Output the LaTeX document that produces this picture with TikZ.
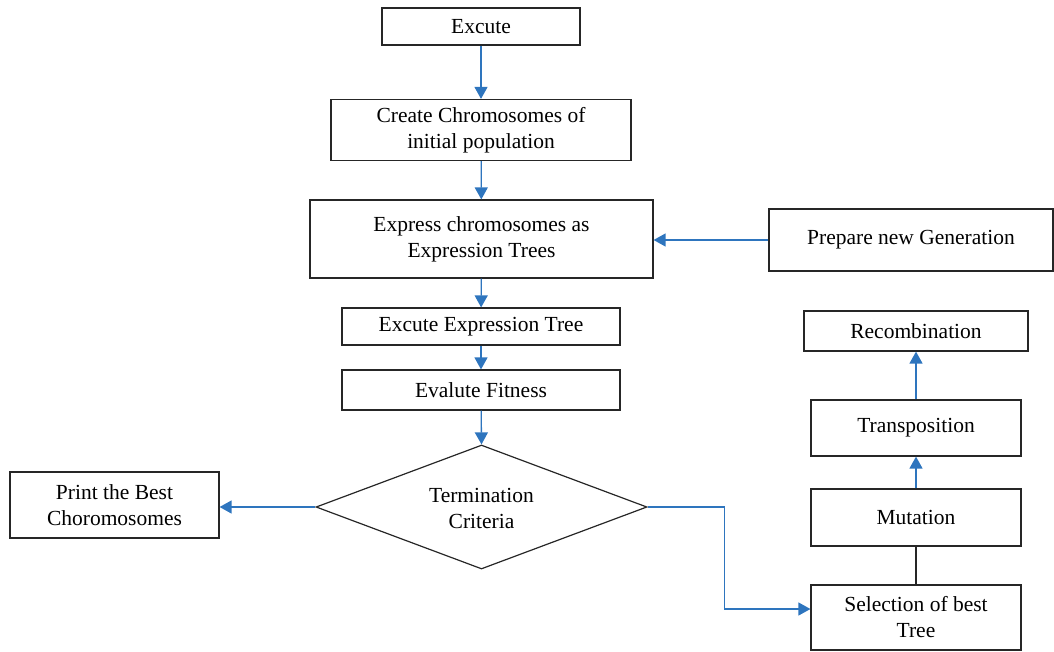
\documentclass[tikz,border=0pt]{standalone}
\usepackage{fontspec}
\setmainfont{Liberation Serif}
\usetikzlibrary{arrows.meta,shapes.geometric}
\definecolor{arrblue}{RGB}{46,117,190}
\begin{document}
\begin{tikzpicture}[x=1pt,y=-1pt,
  box/.style={draw=black!85,line width=1.2pt,rectangle,align=center,inner sep=0pt,
    font=\fontsize{21.5}{26}\selectfont},
  dia/.style={draw=black!85,line width=1.2pt,diamond,align=center,inner sep=0pt},
  arr/.style={draw=arrblue,line width=1.3pt,-{Triangle[length=12pt,width=13pt]}},
  link/.style={draw=black!85,line width=1.2pt}]
\useasboundingbox (0,0) rectangle (1054,651);
\node[box,minimum width=198,minimum height=37] (exec) at (481,26.5) {Excute};
\node[box,minimum width=300,minimum height=61] (create) at (481,130) {Create Chromosomes of\\initial population};
\node[box,minimum width=343,minimum height=78] (express) at (481.5,239) {Express chromosomes as\\Expression Trees};
\node[box,minimum width=284,minimum height=62] (prepare) at (911,240) {Prepare new Generation};
\node[box,minimum width=278,minimum height=37] (extree) at (481,326.5) {Excute Expression Tree};
\node[box,minimum width=278,minimum height=40] (fitness) at (481,390) {Evalute Fitness};
\node[box,minimum width=224,minimum height=40] (recomb) at (916,331) {Recombination};
\node[box,minimum width=210,minimum height=56] (transp) at (916,428) {Transposition};
\node[box,minimum width=210,minimum height=57] (mutation) at (916,517.5) {Mutation};
\node[box,minimum width=210,minimum height=65] (select) at (916,617.5) {Selection of best\\Tree};
\node[box,minimum width=209,minimum height=66] (print) at (114.5,505) {Print the Best\\Choromosomes};
\node[dia,minimum width=331,minimum height=124] (term) at (481.5,507) {};
\node[font=\fontsize{21.5}{26}\selectfont,align=center,inner sep=0pt] (termtxt) at (481.5,508) {Termination\\Criteria};

\draw[arr] (exec) -- (create);
\draw[arr] (create) -- (express);
\draw[arr] (express) -- (extree);
\draw[arr] (extree) -- (fitness);
\draw[arr] (fitness) -- (term.north);
\draw[arr] (term.west) -- (print.east |- term.west);
\draw[arr] (prepare.west) -- (express.east |- prepare.west);
\draw[arr] (term.east) -- ++(77,0) |- ([yshift=8.5pt]select.west);
\draw[link] (select) -- (mutation);
\draw[arr] (mutation) -- (transp);
\draw[arr] (transp) -- (recomb);
\end{tikzpicture}
\end{document}
